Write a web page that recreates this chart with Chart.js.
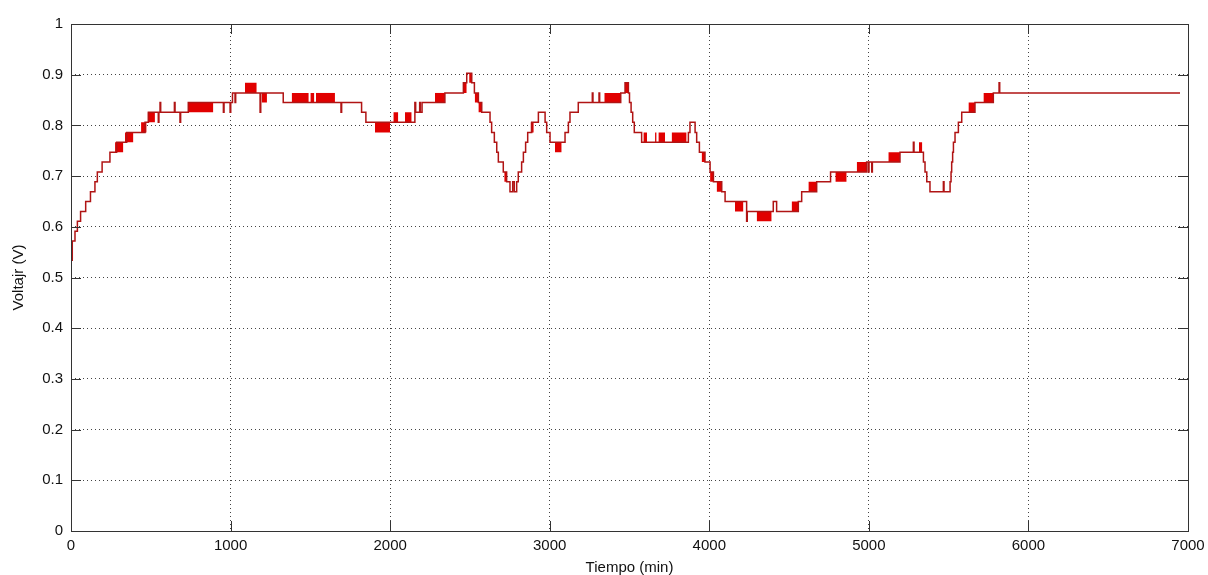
<!DOCTYPE html>
<html>
<head>
<meta charset="utf-8">
<script src="https://cdn.jsdelivr.net/npm/chart.js@4/dist/chart.umd.min.js"></script>
<style>
  html, body { margin: 0; padding: 0; background: #fff; }
  #wrap { width: 1208px; height: 575px; }
</style>
</head>
<body>
<div id="wrap"><canvas id="grafico"></canvas></div>
<script>
// cambios de nivel: [tiempo (min), voltaje (V)] - el valor pasa a v en t
const senal = [
  [0, 0.534], [8, 0.572], [25, 0.591], [40, 0.611], [60, 0.630], [92, 0.650],
  [122, 0.669], [150, 0.689], [165, 0.708], [195, 0.728], [244, 0.747], [286, 0.767],
  [349, 0.786], [464, 0.806], [485, 0.826],
  [547, 0.806], [551, 0.826], [558, 0.845], [562, 0.826], [648, 0.845], [652, 0.826],
  [683, 0.806], [687, 0.826], [735, 0.845], [955, 0.826], [959, 0.845], [997, 0.826],
  [1001, 0.845], [1012, 0.864], [1028, 0.845], [1032, 0.864], [1185, 0.826], [1189, 0.864],
  [1330, 0.845], [1692, 0.826], [1696, 0.845], [1821, 0.826], [1848, 0.806],
  [2155, 0.845], [2160, 0.826], [2185, 0.845], [2189, 0.826], [2200, 0.845], [2343, 0.864],
  [2459, 0.884], [2480, 0.903], [2511, 0.884], [2528, 0.864], [2553, 0.845], [2574, 0.826],
  [2626, 0.806], [2636, 0.786], [2653, 0.767], [2668, 0.747], [2678, 0.728], [2709, 0.708],
  [2730, 0.689], [2751, 0.669], [2768, 0.689], [2778, 0.669], [2793, 0.689], [2803, 0.708],
  [2824, 0.728], [2835, 0.747], [2849, 0.767], [2862, 0.786], [2887, 0.806], [2929, 0.826],
  [2971, 0.806], [2981, 0.786], [3002, 0.767], [3096, 0.786], [3117, 0.806], [3127, 0.826],
  [3179, 0.845], [3267, 0.864], [3271, 0.845], [3309, 0.864], [3313, 0.845], [3445, 0.864],
  [3472, 0.884], [3493, 0.864], [3500, 0.845], [3510, 0.826], [3520, 0.806], [3530, 0.786],
  [3576, 0.767], [3869, 0.786], [3879, 0.806], [3911, 0.786], [3921, 0.767], [3938, 0.747],
  [3973, 0.728], [4005, 0.708], [4026, 0.689], [4078, 0.669], [4099, 0.650], [4234, 0.611],
  [4238, 0.630], [4401, 0.650], [4422, 0.630], [4558, 0.650], [4579, 0.669], [4673, 0.689],
  [4760, 0.708], [4986, 0.728], [4997, 0.708], [5001, 0.728], [5018, 0.708], [5022, 0.728],
  [5195, 0.747], [5279, 0.767], [5283, 0.747], [5342, 0.728], [5352, 0.708], [5363, 0.689],
  [5383, 0.669], [5467, 0.689], [5471, 0.669], [5509, 0.689], [5515, 0.708], [5519, 0.728],
  [5525, 0.747], [5530, 0.767], [5540, 0.786], [5561, 0.806], [5582, 0.826], [5665, 0.845],
  [5780, 0.864], [5816, 0.884], [5820, 0.864], [6950, 0.864]
];

// tramos donde la lectura oscila entre dos niveles: [t0, t1, v bajo, v alto]
const oscilaciones = [
  [276, 328, 0.747, 0.767], [338, 391, 0.767, 0.786], [439, 474, 0.786, 0.806],
  [480, 526, 0.806, 0.826], [735, 892, 0.826, 0.845], [1090, 1164, 0.864, 0.884],
  [1195, 1228, 0.845, 0.864], [1383, 1490, 0.845, 0.864], [1500, 1525, 0.845, 0.864],
  [1535, 1654, 0.845, 0.864], [1905, 1999, 0.786, 0.806], [2020, 2051, 0.806, 0.826],
  [2093, 2135, 0.806, 0.826], [2281, 2343, 0.845, 0.864], [2459, 2480, 0.864, 0.884],
  [2495, 2515, 0.884, 0.903], [2530, 2553, 0.845, 0.864], [2553, 2574, 0.826, 0.845],
  [2715, 2730, 0.689, 0.708], [2880, 2900, 0.786, 0.806], [3033, 3075, 0.747, 0.767],
  [3342, 3445, 0.845, 0.864], [3472, 3493, 0.864, 0.884], [3587, 3610, 0.767, 0.786],
  [3660, 3670, 0.767, 0.786], [3681, 3723, 0.767, 0.786], [3764, 3858, 0.767, 0.786],
  [3952, 3973, 0.728, 0.747], [4005, 4026, 0.689, 0.708], [4046, 4078, 0.669, 0.689],
  [4161, 4214, 0.630, 0.650], [4297, 4391, 0.611, 0.630], [4516, 4558, 0.630, 0.650],
  [4621, 4673, 0.669, 0.689], [4790, 4861, 0.689, 0.708], [4924, 4986, 0.708, 0.728],
  [5122, 5195, 0.728, 0.747], [5314, 5335, 0.747, 0.767], [5624, 5665, 0.826, 0.845],
  [5718, 5780, 0.845, 0.864]
];

const ticksX = [0, 1000, 2000, 3000, 4000, 5000, 6000, 7000];
const ticksY = [0, 0.1, 0.2, 0.3, 0.4, 0.5, 0.6, 0.7, 0.8, 0.9, 1];

const fuente = "'Liberation Sans', Arial, sans-serif";

const bloques = oscilaciones.map(o => ({
  data: [{ x: o[0], y: o[3] }, { x: o[1], y: o[3] }],
  stepped: true,
  borderWidth: 0,
  pointRadius: 0,
  backgroundColor: "#e10000",
  fill: { value: o[2] }
}));

// caja y marcas hacia adentro, estilo matlab
const caja = {
  id: "caja",
  afterDraw(chart) {
    const { ctx, chartArea: a, scales } = chart;
    ctx.save();
    ctx.strokeStyle = "#333";
    ctx.lineWidth = 1;
    ctx.setLineDash([]);
    ctx.strokeRect(a.left + 0.5, a.top + 0.5, a.right - a.left, a.bottom - a.top);
    ctx.beginPath();
    ticksX.forEach(v => {
      const x = Math.round(scales.x.getPixelForValue(v)) + 0.5;
      ctx.moveTo(x, a.bottom); ctx.lineTo(x, a.bottom - 10);
      ctx.moveTo(x, a.top); ctx.lineTo(x, a.top + 10);
    });
    ticksY.forEach(v => {
      const y = Math.round(scales.y.getPixelForValue(v)) + 0.5;
      ctx.moveTo(a.left, y); ctx.lineTo(a.left + 10, y);
      ctx.moveTo(a.right, y); ctx.lineTo(a.right - 10, y);
    });
    ctx.stroke();
    ctx.restore();
  }
};

new Chart(document.getElementById("grafico"), {
  type: "line",
  data: {
    datasets: [
      {
        data: senal.map(p => ({ x: p[0], y: p[1] })),
        stepped: true,
        borderColor: "#b01414",
        borderWidth: 1.5,
        pointRadius: 0,
        fill: false
      },
      ...bloques
    ]
  },
  options: {
    responsive: true,
    maintainAspectRatio: false,
    animation: false,
    layout: { padding: { top: 24, right: 20, left: 0, bottom: 0 } },
    plugins: { legend: { display: false }, tooltip: { enabled: false } },
    scales: {
      x: {
        type: "linear",
        min: 0,
        max: 7000,
        afterBuildTicks: s => { s.ticks = ticksX.map(v => ({ value: v })); },
        afterFit: s => { s.height = 44; s.paddingRight = 0; s.paddingLeft = 0; },
        ticks: {
          color: "#111", padding: 6, maxRotation: 0,
          font: { family: fuente, size: 15 },
          callback: v => String(v)
        },
        grid: { color: "#444", drawTicks: false },
        border: { display: false, dash: [1, 3] },
        title: { display: true, text: "Tiempo (min)", color: "#111", padding: { top: 0, bottom: -2 }, font: { family: fuente, size: 15 } }
      },
      y: {
        min: 0,
        max: 1,
        afterBuildTicks: s => { s.ticks = ticksY.map(v => ({ value: v })); },
        afterFit: s => { s.width = 71; },
        ticks: {
          color: "#111", padding: 8,
          font: { family: fuente, size: 15 },
          callback: v => String(Number(v.toFixed(1)))
        },
        grid: { color: "#444", drawTicks: false },
        border: { display: false, dash: [1, 3] },
        title: { display: true, text: "Voltajr (V)", color: "#111", padding: { top: 10, bottom: 0 }, font: { family: fuente, size: 15 } }
      }
    }
  },
  plugins: [caja]
});
</script>
</body>
</html>
